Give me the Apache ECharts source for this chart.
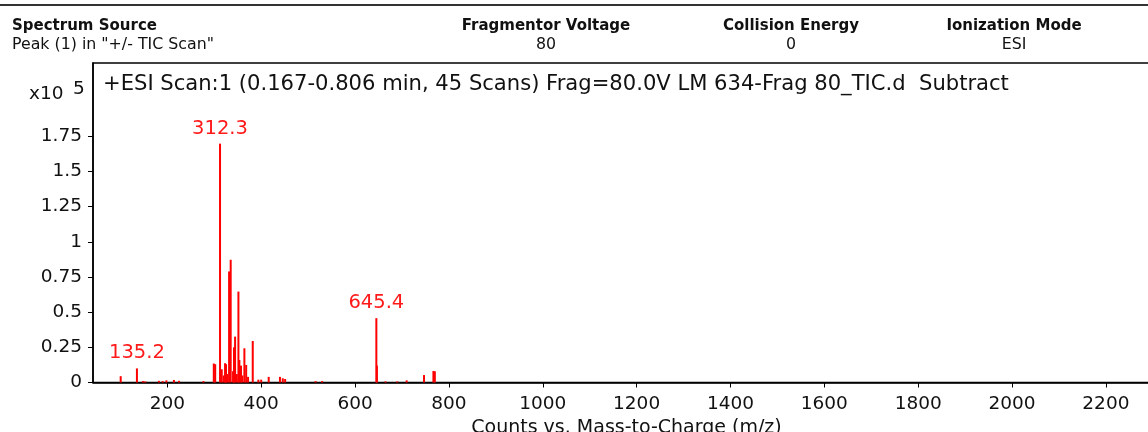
<!DOCTYPE html>
<html>
<head>
<meta charset="utf-8">
<script src="https://cdn.jsdelivr.net/npm/echarts@6/dist/echarts.min.js"></script>
<style>
	html, body {margin: 0; padding: 0; background: #fff;}
	#chartDiv {width: 1148px; height: 432px;}
</style>
</head>
<body>
<div id="chartDiv"></div>
<script>
// 初始化图表
let myChart = echarts.init(document.getElementById('chartDiv'));

// 数据集 (m/z, counts x10^5)
let mz = [100.6, 135.2, 148, 153, 182, 190, 198, 214, 225, 277,
	299, 302, 312.3, 315.9, 320, 323, 325, 328, 331.6, 335,
	340, 342, 344.4, 348, 351.5, 353.5, 357, 360, 364.2, 368,
	372, 382, 394, 400, 416, 440, 446, 451, 516, 530,
	645.4, 646.6, 665, 690, 710, 747, 767, 770];
let intensity = [0.045, 0.10, 0.01, 0.008, 0.012, 0.01, 0.015, 0.018, 0.012, 0.01,
	0.135, 0.13, 1.697, 0.094, 0.05, 0.137, 0.13, 0.06, 0.789, 0.872,
	0.08, 0.25, 0.326, 0.06, 0.646, 0.16, 0.12, 0.05, 0.243, 0.125,
	0.04, 0.295, 0.02, 0.02, 0.04, 0.04, 0.03, 0.025, 0.01, 0.01,
	0.457, 0.12, 0.008, 0.008, 0.015, 0.053, 0.082, 0.08];
let labeledPeaks = [135.2, 312.3, 645.4];

let xTicks = [200, 400, 600, 800, 1000, 1200, 1400, 1600, 1800, 2000, 2200];
let yTicks = [0, 0.25, 0.5, 0.75, 1, 1.25, 1.5, 1.75];

let headers = ['Fragmentor Voltage', 'Collision Energy', 'Ionization Mode'];
let headerValues = ['80', '0', 'ESI'];
let headerCenters = [546, 791, 1014];

let scanTitle = '+ESI Scan:1 (0.167-0.806 min, 45 Scans) Frag=80.0V LM 634-Frag 80_TIC.d  Subtract';

// 生成绘图数据
let data = mz.map(function (m, i) {
	let item = {value: [m, intensity[i]]};
	if (labeledPeaks.indexOf(m) >= 0) {
		item.label = {show: true};
	}
	return item;
});

let font = 'DejaVu Sans';

let graphics = [
	{type: 'rect', shape: {x: 0, y: 4, width: 1148, height: 2}, style: {fill: '#333'}},
	{type: 'text', left: 12, top: 19, style: {text: 'Spectrum Source', font: 'bold 15px "DejaVu Sans"', fill: '#111'}},
	{type: 'text', left: 12, top: 37, style: {text: 'Peak (1) in "+/- TIC Scan"', font: '15.8px "DejaVu Sans"', fill: '#111'}},
	{type: 'text', left: 103, top: 74, style: {text: scanTitle, font: '21.1px "DejaVu Sans"', fill: '#111'}},
	{type: 'text', left: 29, top: 85, style: {text: 'x10', font: '18.5px "DejaVu Sans"', fill: '#111'}},
	{type: 'text', left: 73, top: 80, style: {text: '5', font: '18.5px "DejaVu Sans"', fill: '#111'}}
];
headers.forEach(function (h, i) {
	graphics.push({type: 'text', x: headerCenters[i], y: 19,
		style: {text: h, font: 'bold 15px "DejaVu Sans"', fill: '#111', align: 'center'}});
	graphics.push({type: 'text', x: headerCenters[i], y: 37,
		style: {text: headerValues[i], font: '15.8px "DejaVu Sans"', fill: '#111', align: 'center'}});
});

// 图表设置
let option = {
	backgroundColor: '#fff',
	animation: false,
	grid: {
		left: 93, top: 63, right: -2, bottom: 49.5,
		outerBoundsMode: 'none',
		containLabel: false,
		show: true, borderColor: '#000', borderWidth: 1.5
	},
	xAxis: {
		type: 'value',
		min: 41.6,
		max: 2294,
		name: 'Counts vs. Mass-to-Charge (m/z)',
		nameLocation: 'middle',
		nameGap: 30,
		nameTextStyle: {fontFamily: font, fontSize: 19, color: '#111', padding: [0, 0, 0, 10]},
		axisLine: {lineStyle: {color: '#000', width: 1.5}},
		axisTick: {show: true, length: 5, customValues: xTicks, lineStyle: {color: '#000'}},
		axisLabel: {
			customValues: xTicks, margin: 12, fontFamily: font, fontSize: 18.5, color: '#111',
			formatter(v) { return String(v); }
		},
		splitLine: {show: false}
	},
	yAxis: {
		type: 'value',
		min: 0,
		max: 2.27,
		axisLine: {show: true, lineStyle: {color: '#000', width: 1.5}},
		axisTick: {show: true, length: 5, customValues: yTicks, lineStyle: {color: '#000'}},
		axisLabel: {
			customValues: yTicks, margin: 11, fontFamily: font, fontSize: 18.5, color: '#111',
			formatter(v) { return String(v); }
		},
		splitLine: {show: false}
	},
	graphic: graphics,
	series: [{
		type: 'bar',
		barWidth: 2,
		itemStyle: {color: '#ff0000'},
		label: {
			show: false,
			position: 'top',
			distance: 5,
			fontFamily: font,
			fontSize: 19.5,
			color: '#ff1a1a',
			formatter(params) {
				return params.value[0].toFixed(1);
			}
		},
		data: data
	}]
};
myChart.setOption(option);
</script>
</body>
</html>
